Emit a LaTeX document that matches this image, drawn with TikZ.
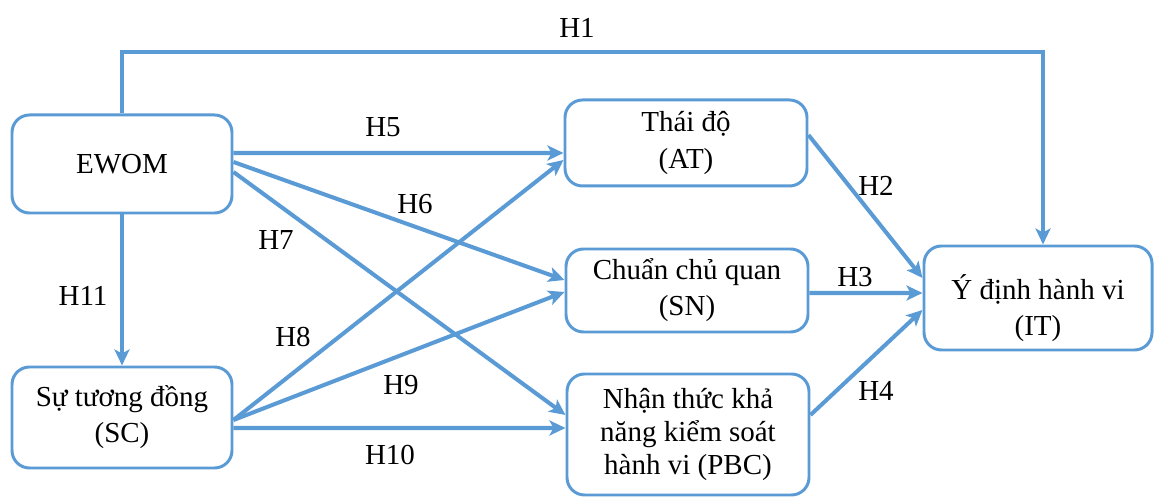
\documentclass[tikz,border=0pt]{standalone}
\usepackage{fontspec}
\setmainfont{Liberation Serif}
\usetikzlibrary{arrows.meta}
\definecolor{linkblue}{HTML}{5B9BD5}
\tikzset{
  box/.style={draw=linkblue, line width=1.7pt, rounded corners=0.35cm, align=center,
    inner sep=0pt, font=\fontsize{16.5}{20.5}\selectfont},
  link/.style={draw=linkblue, line width=2.3pt, -{Stealth[length=0.32cm, width=0.3cm, inset=0.08cm]}},
  lbl/.style={inner sep=0pt, font=\fontsize{16.5}{20.5}\selectfont}
}
\begin{document}
\begin{tikzpicture}
    \useasboundingbox (0,0) rectangle (23.08,9.96);
    % Definizione dei riquadri
    \node[box, minimum width=4.4cm, minimum height=1.96cm] (ewom) at (2.44,6.68) {EWOM};
    \node[box, minimum width=4.4cm, minimum height=2.02cm] (sc) at (2.44,1.61) {Sự tương đồng\\(SC)};
    \node[box, minimum width=4.84cm, minimum height=1.72cm] (at) at (13.72,7.10) {Thái độ\\(AT)};
    \node[box, minimum width=4.84cm, minimum height=1.66cm] (sn) at (13.74,4.15) {Chuẩn chủ quan\\(SN)};
    \node[box, minimum width=4.84cm, minimum height=2.42cm, font=\fontsize{16.5}{18.5}\selectfont] (pbc) at (13.76,1.27) {Nhận thức khả\\năng kiểm soát\\hành vi (PBC)};
    \node[box, minimum width=4.56cm, minimum height=2.08cm] (it) at (20.76,4.00) {};
    \node[lbl, align=center] (ittext) at ([yshift=-0.2cm]it.center) {Ý định hành vi\\(IT)};

    % Definizione delle frecce
    \coordinate (top) at (11.54,8.92);
    \draw[link] (ewom.north) -- (ewom.north |- top) -- ([xshift=0.1cm]it.north |- top) -- ([xshift=0.1cm]it.north);
    \draw[link] ([yshift=0.22cm]ewom.east) -- ([yshift=-0.2cm]at.west);
    \draw[link] ([yshift=0.04cm]ewom.east) -- ([yshift=0.21cm]sn.west);
    \draw[link] ([yshift=-0.16cm]ewom.east) -- ([yshift=0.39cm]pbc.west);
    \draw[link] (ewom.south) -- (sc.north);
    \draw[link] ([yshift=-0.05cm]sc.east) -- ([yshift=-0.34cm]at.west);
    \draw[link] ([yshift=-0.05cm]sc.east) -- ([yshift=-0.03cm]sn.west);
    \draw[link] ([yshift=-0.21cm]sc.east) -- ([yshift=0.13cm]pbc.west);
    \draw[link] ([yshift=0.16cm]at.east) -- ([yshift=0.40cm]it.west);
    \draw[link] ([yshift=-0.05cm]sn.east) -- ([yshift=0.10cm]it.west);
    \draw[link] ([yshift=0.39cm]pbc.east) -- ([yshift=-0.24cm]it.west);

    % Etichette
    \node[lbl] (h1) at (11.54,9.40) {H1};
    \node[lbl] (h2) at (17.52,6.24) {H2};
    \node[lbl] (h3) at (17.10,4.42) {H3};
    \node[lbl] (h4) at (17.52,2.14) {H4};
    \node[lbl] (h5) at (7.66,7.42) {H5};
    \node[lbl] (h6) at (8.30,5.88) {H6};
    \node[lbl] (h7) at (5.52,5.16) {H7};
    \node[lbl] (h8) at (5.86,3.22) {H8};
    \node[lbl] (h9) at (8.02,2.26) {H9};
    \node[lbl] (h10) at (7.80,0.86) {H10};
    \node[lbl] (h11) at (1.66,4.04) {H11};
\end{tikzpicture}
\end{document}
